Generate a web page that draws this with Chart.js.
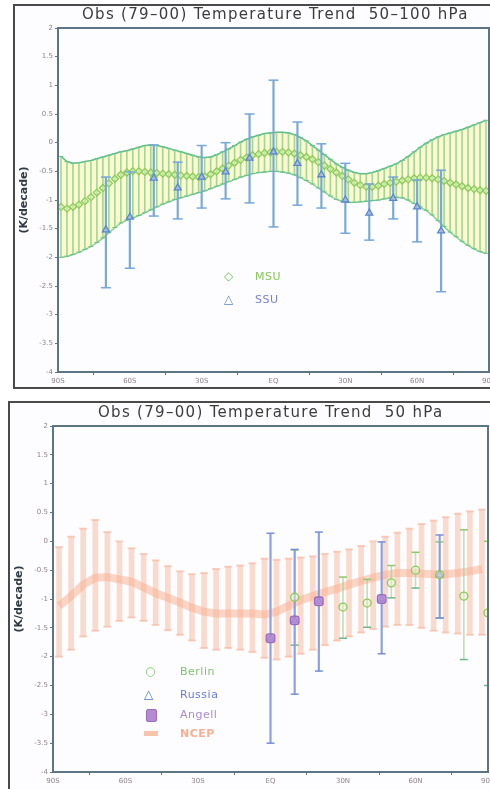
<!doctype html>
<html lang="en">
<head>
<meta charset="utf-8">
<title>Obs (79-00) Temperature Trend</title>
<script src="https://cdn.jsdelivr.net/npm/chart.js"></script>
<style>
  html, body { margin:0; padding:0; background:#fff; width:490px; height:789px; overflow:hidden; }
  .panel { position:absolute; border:2px solid #4a4a4a; background:#fdfdff; box-sizing:border-box; }
  #p1 { left:13px; top:4px; width:500px; height:385px; }
  #p2 { left:8px; top:401px; width:500px; height:400px; }
  canvas { position:absolute; }
  .ttl { position:absolute; font-family:"DejaVu Sans"; font-size:15px; color:#3c3c3c; letter-spacing:1.3px; white-space:nowrap; line-height:16px; }
  .leg { position:absolute; font-family:"DejaVu Sans"; font-size:11px; line-height:14px; white-space:nowrap; letter-spacing:0.5px; }
</style>
</head>
<body>
<div class="panel" id="p1"></div>
<div class="panel" id="p2"></div>
<canvas id="c1" width="486" height="383" style="left:14px;top:5px"></canvas>
<canvas id="c2" width="491" height="387" style="left:9px;top:402px"></canvas>

<div class="ttl" style="left:82px;top:6px">Obs (79–00) Temperature Trend&nbsp; 50–100 hPa</div>
<div class="ttl" style="left:98px;top:404px">Obs (79–00) Temperature Trend&nbsp; 50 hPa</div>

<!-- legend, top panel -->
<div class="leg" style="left:224px;top:269px;color:#7cc46a;font-size:12px">◇</div>
<div class="leg" style="left:255px;top:270px;color:#86c85a">MSU</div>
<div class="leg" style="left:224px;top:292px;color:#5a7fd0;font-size:12px">△</div>
<div class="leg" style="left:255px;top:293px;color:#7a80d8">SSU</div>

<!-- legend, bottom panel -->
<div class="leg" style="left:145px;top:664px;color:#7cc46a;font-size:12px">○</div>
<div class="leg" style="left:180px;top:665px;color:#7cc46a">Berlin</div>
<div class="leg" style="left:144px;top:687px;color:#4a6fd0;font-size:12px">△</div>
<div class="leg" style="left:180px;top:688px;color:#6a7ad8">Russia</div>
<div class="leg" style="left:146px;top:709px;width:9px;height:11px;background:#b58ad0;border:1px solid #9a6cc0;border-radius:2px"></div>
<div class="leg" style="left:180px;top:708px;color:#a88ad0">Angell</div>
<div class="leg" style="left:144px;top:731px;width:14px;height:5px;background:#f9c4ac"></div>
<div class="leg" style="left:180px;top:727px;color:#f6b094;font-weight:bold">NCEP</div>

<script>
// axes
const latTicks = [-90, -60, -30, 0, 30, 60, 90];
const latLabels = ['90S', '60S', '30S', 'EQ', '30N', '60N', '90N'];
const yTicks = [2, 1.5, 1, 0.5, 0, -0.5, -1, -1.5, -2, -2.5, -3, -3.5, -4];

// top panel: MSU 2.5 deg zones
const msuLat = [-88.75,-86.25,-83.75,-81.25,-78.75,-76.25,-73.75,-71.25,-68.75,-66.25,-63.75,-61.25,
  -58.75,-56.25,-53.75,-51.25,-48.75,-46.25,-43.75,-41.25,-38.75,-36.25,-33.75,-31.25,
  -28.75,-26.25,-23.75,-21.25,-18.75,-16.25,-13.75,-11.25,-8.75,-6.25,-3.75,-1.25,
  1.25,3.75,6.25,8.75,11.25,13.75,16.25,18.75,21.25,23.75,26.25,28.75,
  31.25,33.75,36.25,38.75,41.25,43.75,46.25,48.75,51.25,53.75,56.25,58.75,
  61.25,63.75,66.25,68.75,71.25,73.75,76.25,78.75,81.25,83.75,86.25,88.75];
const msuTrend = [-1.12,-1.15,-1.12,-1.08,-1.02,-0.95,-0.87,-0.79,-0.71,-0.63,-0.56,-0.52,
  -0.50,-0.50,-0.51,-0.52,-0.53,-0.54,-0.55,-0.56,-0.57,-0.58,-0.59,-0.60,
  -0.59,-0.55,-0.50,-0.45,-0.40,-0.35,-0.30,-0.26,-0.22,-0.20,-0.18,-0.17,
  -0.16,-0.16,-0.17,-0.19,-0.22,-0.25,-0.29,-0.34,-0.40,-0.46,-0.52,-0.58,
  -0.64,-0.70,-0.74,-0.77,-0.77,-0.75,-0.72,-0.70,-0.68,-0.66,-0.64,-0.62,
  -0.61,-0.61,-0.62,-0.64,-0.67,-0.70,-0.73,-0.76,-0.79,-0.81,-0.83,-0.84];
const msuHigh = [-0.24,-0.33,-0.36,-0.35,-0.33,-0.31,-0.28,-0.25,-0.22,-0.19,-0.16,-0.14,
  -0.11,-0.08,-0.05,-0.04,-0.05,-0.07,-0.10,-0.13,-0.16,-0.19,-0.22,-0.25,
  -0.26,-0.25,-0.21,-0.16,-0.11,-0.05,0.01,0.06,0.10,0.13,0.16,0.17,
  0.18,0.18,0.17,0.14,0.09,0.03,-0.05,-0.13,-0.21,-0.29,-0.37,-0.43,
  -0.48,-0.52,-0.54,-0.54,-0.52,-0.49,-0.45,-0.41,-0.37,-0.31,-0.24,-0.16,
  -0.08,-0.01,0.05,0.10,0.14,0.17,0.20,0.23,0.27,0.31,0.35,0.39];
const msuLow = [-2.00,-1.98,-1.95,-1.91,-1.86,-1.81,-1.74,-1.66,-1.57,-1.48,-1.40,-1.35,
  -1.31,-1.27,-1.22,-1.17,-1.12,-1.07,-1.03,-0.99,-0.96,-0.93,-0.90,-0.87,
  -0.84,-0.80,-0.76,-0.72,-0.68,-0.64,-0.60,-0.57,-0.54,-0.52,-0.51,-0.50,
  -0.50,-0.51,-0.53,-0.56,-0.61,-0.66,-0.72,-0.79,-0.86,-0.93,-0.99,-1.02,
  -1.04,-1.04,-1.03,-1.02,-1.01,-1.00,-0.98,-0.96,-0.95,-0.96,-1.00,-1.06,
  -1.12,-1.18,-1.26,-1.36,-1.46,-1.56,-1.64,-1.72,-1.79,-1.85,-1.90,-1.93];

// top panel: SSU
const ssuLat = [-70,-60,-50,-40,-30,-20,-10,0,10,20,30,40,50,60,70];
const ssuTrend = [-1.52,-1.30,-0.62,-0.79,-0.60,-0.51,-0.27,-0.16,-0.36,-0.56,-1.00,-1.23,-0.97,-1.12,-1.54];
const ssuHigh = [-0.60,-0.51,-0.04,-0.34,-0.05,0.00,0.50,1.09,0.36,-0.02,-0.36,-0.72,-0.60,-0.65,-0.48];
const ssuLow = [-2.53,-2.19,-1.28,-1.33,-1.14,-0.98,-1.05,-1.47,-1.09,-1.14,-1.58,-1.70,-1.33,-1.73,-2.60];

// bottom panel: NCEP 5 deg zones
const ncepLat = [-87.5,-82.5,-77.5,-72.5,-67.5,-62.5,-57.5,-52.5,-47.5,-42.5,-37.5,-32.5,
  -27.5,-22.5,-17.5,-12.5,-7.5,-2.5,2.5,7.5,12.5,17.5,22.5,27.5,
  32.5,37.5,42.5,47.5,52.5,57.5,62.5,67.5,72.5,77.5,82.5,87.5];
const ncepTrend = [-1.12,-0.95,-0.75,-0.63,-0.62,-0.66,-0.70,-0.80,-0.90,-0.98,-1.06,-1.15,
  -1.22,-1.25,-1.25,-1.25,-1.25,-1.27,-1.22,-1.12,-1.02,-0.95,-0.88,-0.82,
  -0.75,-0.69,-0.63,-0.58,-0.55,-0.55,-0.56,-0.57,-0.57,-0.55,-0.52,-0.48];
const ncepHigh = [-0.10,0.08,0.22,0.37,0.16,0.00,-0.12,-0.22,-0.33,-0.43,-0.52,-0.57,
  -0.55,-0.48,-0.44,-0.42,-0.38,-0.30,-0.32,-0.30,-0.28,-0.26,-0.22,-0.18,
  -0.14,-0.08,0.00,0.08,0.15,0.22,0.30,0.36,0.42,0.48,0.52,0.55];
const ncepLow = [-2.00,-1.88,-1.65,-1.55,-1.48,-1.38,-1.32,-1.38,-1.45,-1.54,-1.62,-1.72,
  -1.85,-1.88,-1.85,-1.88,-1.92,-2.02,-2.05,-2.00,-1.95,-1.88,-1.80,-1.72,
  -1.65,-1.58,-1.52,-1.48,-1.45,-1.45,-1.50,-1.55,-1.58,-1.60,-1.62,-1.62];

// bottom panel: radiosondes
const berlinLat = [10, 30, 40, 50, 60, 70, 80, 90];
const berlinTrend = [-0.97, -1.14, -1.07, -0.72, -0.50, -0.58, -0.95, -1.24];
const berlinHigh = [-0.15, -0.62, -0.66, -0.42, -0.19, -0.01, 0.20, 0.00];
const berlinLow = [-1.80, -1.68, -1.49, -0.98, -0.81, -1.33, -2.05, -2.50];

const russiaLat = [0, 10, 20, 46, 70];
const russiaTrend = [-1.68, -1.37, -1.04, -1.00, -0.58];
const russiaHigh = [0.14, -0.14, 0.16, -0.01, 0.11];
const russiaLow = [-3.50, -2.65, -2.25, -1.95, -1.33];

const angellLat = [0, 10, 20, 46];
const angellTrend = [-1.68, -1.37, -1.04, -1.00];

// helpers
const pts = (xs, ys) => xs.map((x, i) => ({x: x, y: ys[i]}));

function errBars(xs, lo, hi, color, w, order) {
  return {type: 'bar', data: xs.map((x, i) => ({x: x, y: [lo[i], hi[i]]})),
    backgroundColor: color, borderWidth: 0, barThickness: w, grouped: false, order: order};
}
function caps(xs, ys, color, r, w, order) {
  return {type: 'scatter', data: pts(xs, ys), pointStyle: 'line', pointRadius: r,
    borderColor: color, pointBorderColor: color, pointBorderWidth: w, borderWidth: w, order: order};
}
function markers(xs, ys, style, r, stroke, fill, order) {
  return {type: 'scatter', data: pts(xs, ys), pointStyle: style, pointRadius: r,
    pointBorderColor: stroke, borderColor: stroke, pointBackgroundColor: fill, backgroundColor: fill,
    pointBorderWidth: 1.3, order: order};
}

// plot frame around the chart area
const frame = {
  id: 'frame',
  afterDraw(c) {
    const a = c.chartArea, ctx = c.ctx;
    ctx.save();
    ctx.strokeStyle = '#5b7585';
    ctx.lineWidth = 2;
    ctx.strokeRect(a.left, a.top, a.right - a.left, a.bottom - a.top);
    ctx.restore();
  }
};

function scales(xh) {
  return {
    x: {
      type: 'linear', min: -90, max: 90, offset: false,
      afterBuildTicks: s => { s.ticks = latTicks.map(v => ({value: v})); },
      afterFit: s => { s.height = xh; },
      ticks: {
        callback: v => latLabels[latTicks.indexOf(v)],
        color: '#8c8288', font: {family: 'DejaVu Sans', size: 7}, padding: 2,
        maxRotation: 0, autoSkip: false
      },
      grid: {display: true, drawOnChartArea: false, tickLength: 3, color: '#5b7585'},
      border: {color: '#5b7585', width: 2}
    },
    y: {
      type: 'linear', min: -4, max: 2,
      afterBuildTicks: s => { s.ticks = yTicks.map(v => ({value: v})); },
      afterFit: s => { s.width = 44; },
      ticks: {
        callback: v => String(v),
        color: '#8c8288', font: {family: 'DejaVu Sans', size: 7}, padding: 2
      },
      grid: {display: true, drawOnChartArea: false, tickLength: 3, color: '#5b7585'},
      border: {color: '#5b7585', width: 2},
      title: {display: true, text: '(K/decade)', color: '#2e3a44',
        font: {family: 'DejaVu Sans', size: 11, weight: 'bold'}, padding: {top: 4, bottom: 0}}
    }
  };
}

function baseOptions(pad, xh) {
  return {
    responsive: false, animation: false, events: [],
    layout: {padding: pad},
    plugins: {legend: {display: false}, tooltip: {enabled: false}, title: {display: false}},
    scales: scales(xh)
  };
}

// top chart: 50-100 hPa
new Chart(document.getElementById('c1'), {
  type: 'scatter',
  data: {
    datasets: [
      {type: 'line', data: pts(msuLat, msuHigh), borderColor: '#62c08a', borderWidth: 1.5,
        pointRadius: 0, fill: '+1', backgroundColor: 'rgba(248,246,175,0.6)', order: 6},
      {type: 'line', data: pts(msuLat, msuLow), borderColor: '#62c08a', borderWidth: 1.5,
        pointRadius: 0, fill: false, order: 6},
      errBars(msuLat, msuLow, msuHigh, 'rgba(150,208,140,0.85)', 1, 5),
      caps(msuLat, msuHigh, 'rgba(98,192,138,0.9)', 2.5, 1, 4),
      caps(msuLat, msuLow, 'rgba(98,192,138,0.9)', 2.5, 1, 4),
      markers(msuLat, msuTrend, 'rectRot', 3.5, '#8ccc5c', 'rgba(214,238,170,0.6)', 3),
      errBars(ssuLat, ssuLow, ssuHigh, '#78a8d8', 1.5, 2),
      caps(ssuLat, ssuHigh, '#78a8d8', 5, 1.5, 1),
      caps(ssuLat, ssuLow, '#78a8d8', 5, 1.5, 1),
      markers(ssuLat, ssuTrend, 'triangle', 4, '#5a86cc', 'rgba(170,190,225,0.8)', 0)
    ]
  },
  options: baseOptions({left: 0, right: 11, top: 23, bottom: 0}, 16),
  plugins: [frame]
});

// bottom chart: 50 hPa
new Chart(document.getElementById('c2'), {
  type: 'scatter',
  data: {
    datasets: [
      errBars(ncepLat, ncepLow, ncepHigh, 'rgba(247,175,145,0.45)', 5, 9),
      caps(ncepLat, ncepHigh, 'rgba(245,165,135,0.45)', 4, 2, 8),
      caps(ncepLat, ncepLow, 'rgba(245,165,135,0.45)', 4, 2, 8),
      {type: 'line', data: pts(ncepLat, ncepTrend), borderColor: 'rgba(247,172,140,0.5)',
        borderWidth: 8, pointRadius: 0, fill: false, order: 7},
      errBars(berlinLat, berlinLow, berlinHigh, 'rgba(160,205,130,0.6)', 1, 6),
      caps(berlinLat, berlinHigh, '#8cc86c', 4, 1.5, 5),
      caps(berlinLat, berlinLow, '#6cb88a', 4, 1.5, 5),
      errBars(russiaLat, russiaLow, russiaHigh, '#8aa0e0', 1.5, 4),
      caps(russiaLat, russiaHigh, '#7890d8', 4, 1.5, 3),
      caps(russiaLat, russiaLow, '#7890d8', 4, 1.5, 3),
      markers(russiaLat, russiaTrend, 'triangle', 4, '#5a78d0', 'rgba(170,185,230,0.7)', 2),
      markers(berlinLat, berlinTrend, 'circle', 4, '#8cc85c', 'rgba(230,240,200,0.5)', 1),
      markers(angellLat, angellTrend, 'rectRounded', 5, '#9a6cc0', 'rgba(180,140,210,0.85)', 0)
    ]
  },
  options: baseOptions({left: 0, right: 12, top: 24, bottom: 0}, 17),
  plugins: [frame]
});
</script>
</body>
</html>
